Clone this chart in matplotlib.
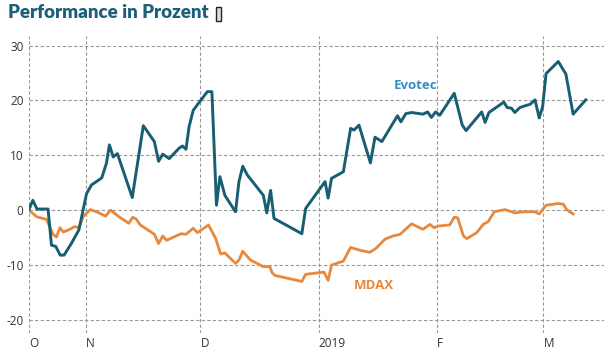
import matplotlib
matplotlib.use("Agg")
import matplotlib.pyplot as plt
import pandas as pd
from matplotlib.patches import Rectangle

start_date = "2018-10-17"

evotec_days = [0, 1.0, 2.1, 5.0, 5.9, 7.0, 8.2, 9.2, 11.1, 13.1, 15.1, 16.4, 17.7, 19.1, 20.3,
               21.1, 22.1, 23.2, 27.1, 30.0, 32.9, 34.0, 35.1, 36.8, 39.4, 40.3, 41.2, 42.0,
               43.1, 44.6, 46.8, 48.0, 49.2, 50.1, 51.4, 54.2, 55.1, 56.1, 57.3, 61.5, 62.4,
               63.4, 64.3, 71.6, 72.6, 77.7, 78.5, 79.4, 82.5, 84.4, 85.3, 86.6, 89.6, 90.8,
               92.6, 96.7, 97.6, 98.9, 100.4, 103.4, 104.6, 105.6, 106.7, 107.8, 111.6, 113.7,
               114.7, 118.8, 119.7, 120.7, 123.6, 124.6, 125.5, 126.6, 127.5, 128.8, 130.1,
               131.5, 132.8, 133.9, 134.8, 135.7, 138.9, 140.9, 142.8, 146.1]
evotec_vals = [0.1, 1.8, 0.2, 0.2, -6.4, -6.6, -8.2, -8.2, -6.1, -3.6, 3.0, 4.6, 5.2, 5.9, 8.5,
               11.9, 9.7, 10.3, 2.3, 15.4, 12.5, 8.9, 10.2, 9.4, 11.3, 11.7, 11.1, 15.2,
               18.2, 19.6, 21.6, 21.6, 0.9, 6.1, 2.7, -0.3, 5.2, 8.0, 6.4, 2.7, -0.5,
               3.6, -1.5, -4.3, 0.3, 5.2, 2.2, 5.8, 7.0, 14.9, 14.6, 15.5, 8.6, 13.3,
               12.5, 17.2, 16.1, 17.6, 17.8, 17.5, 17.9, 16.9, 17.9, 17.3, 21.3, 15.5,
               14.5, 17.9, 16.0, 17.8, 19.2, 19.7, 18.7, 18.6, 17.8, 18.7, 19.0,
               19.3, 20.1, 16.8, 18.9, 24.9, 27.1, 24.8, 17.5, 20.1]

mdax_days = [0, 2.0, 4.6, 6.3, 7.2, 8.1, 9.0, 10.7, 12.0, 13.1, 14.2, 16.1, 17.7, 20.1, 21.4,
             23.8, 26.2, 27.2, 28.1, 29.2, 32.9, 34.0, 35.1, 36.1, 39.9, 41.2, 43.1, 44.2,
             47.1, 49.0, 50.3, 51.4, 54.2, 55.1, 56.1, 58.1, 61.5, 63.2, 63.8, 64.5, 71.6,
             72.6, 77.4, 78.5, 79.4, 80.7, 82.5, 84.4, 86.8, 89.4, 91.0, 93.4, 95.6, 97.4,
             100.4, 103.4, 105.2, 106.3, 107.4, 110.4, 111.6, 112.5, 114.0, 114.9, 117.5,
             119.2, 120.5, 122.1, 124.9, 127.5, 129.7, 132.8, 133.9, 135.7, 138.9, 140.2,
             141.1, 142.8]
mdax_vals = [0, -1.2, -1.7, -4.4, -4.9, -3.2, -4.0, -3.5, -3.0, -3.2, -1.2, 0.1, -0.3, -1.1, 0.0,
             -1.3, -2.4, -1.3, -1.6, -2.7, -4.4, -6.1, -4.7, -5.5, -4.3, -4.4, -3.3, -4.1,
             -2.7, -5.2, -8.0, -7.8, -9.7, -9.1, -7.5, -9.1, -10.3, -10.3, -11.4, -11.9, -13.0,
             -11.7, -11.3, -12.8, -10.0, -9.7, -9.3, -6.8, -7.3, -7.7, -7.0, -5.3, -4.7, -4.4,
             -2.5, -3.5, -2.6, -3.2, -2.9, -2.7, -1.3, -1.4, -4.7, -5.2, -4.1,
             -2.6, -2.1, -0.3, 0.1, -0.5, -0.3, -0.3, -0.7, 0.9, 1.2, 1.1,
             0.1, -0.7]

tick_dates = ["2018-10-17", "2018-11-01", "2018-12-01", "2019-01-01", "2019-02-01", "2019-03-01"]
tick_labels = ["O", "N", "D", "2019", "F", "M"]
y_ticks = [-20, -10, 0, 10, 20, 30]

base = pd.Timestamp(start_date)
ev_x = base + pd.to_timedelta(evotec_days, unit="D")
md_x = base + pd.to_timedelta(mdax_days, unit="D")

fig = plt.figure(figsize=(6.04, 3.53), dpi=100)
ax = fig.add_axes([29 / 604, 1 - 333 / 353, 1 - 29 / 604, (333 - 36) / 353])

c_ev = "#175e72"
c_md = "#e8883c"
grid_c = "#999999"

ax.plot(md_x, mdax_vals, color=c_md, lw=2.0, solid_joinstyle="round", zorder=3)
ax.plot(ev_x, evotec_vals, color=c_ev, lw=2.1, solid_joinstyle="round", zorder=4)

ax.set_xlim(base, base + pd.Timedelta(days=150.9))
ax.set_ylim(-22.4, 31.75)

ax.set_xticks(pd.to_datetime(tick_dates))
ax.set_xticklabels(tick_labels)
ax.set_yticks(y_ticks)
ax.set_yticklabels([str(v) for v in y_ticks])

for s in ax.spines.values():
    s.set_visible(False)
ax.tick_params(axis="both", length=0, labelsize=8.5, labelcolor="#333333")
ax.tick_params(axis="x", pad=3)
ax.tick_params(axis="y", pad=4)
for lbl in ax.get_xticklabels():
    lbl.set_horizontalalignment("left")
for lbl in ax.get_xticklabels() + ax.get_yticklabels():
    lbl.set_fontfamily("Open Sans")

ax.grid(True, color=grid_c, lw=0.8, ls=(0, (3, 2)))
ax.set_axisbelow(True)

ax.text(base + pd.Timedelta(days=101.5), 22.7, "Evotec", color="#3a8dc2", fontsize=9.5,
        fontweight="bold", family="Open Sans", ha="center", va="center")
ax.text(base + pd.Timedelta(days=90.5), -13.8, "MDAX", color=c_md, fontsize=9.5,
        fontweight="bold", family="Open Sans", ha="center", va="center")

fig.text(8 / 604, 1 - 13 / 353, "Performance in Prozent", color="#1b5f7a", fontsize=13.5,
         fontweight="heavy", family="Lato", ha="left", va="center")
fig.patches.append(Rectangle((216 / 604, 1 - 21 / 353), 5 / 604, 14 / 353,
                             transform=fig.transFigure, facecolor="#dddddd",
                             edgecolor="#222222", lw=1.0))

fig.savefig("out.png", dpi=100)
